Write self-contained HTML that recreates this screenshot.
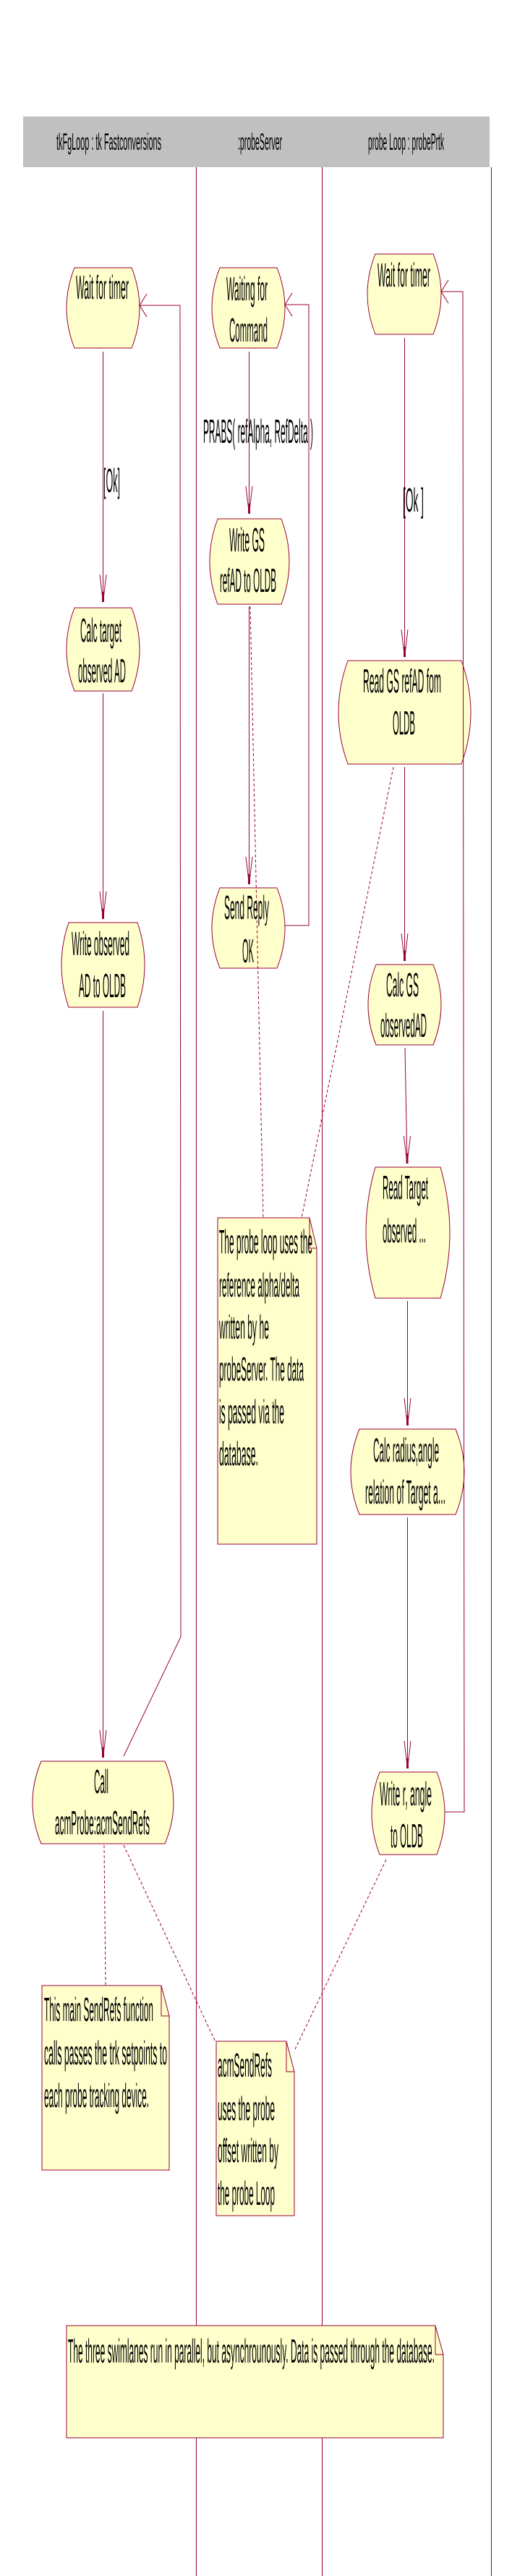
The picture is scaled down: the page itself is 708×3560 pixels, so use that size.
<!DOCTYPE html>
<html><head><meta charset="utf-8"><style>
html,body{margin:0;padding:0;background:#fff}
svg{display:block}
text{font-family:"Liberation Sans",sans-serif;fill:#000}
</style></head><body>
<svg width="708" height="3560" viewBox="0 0 708 3560" xmlns="http://www.w3.org/2000/svg">
<defs>
<marker id="a" markerWidth="12" markerHeight="40" refX="6" refY="38" orient="auto" markerUnits="userSpaceOnUse"></marker>
</defs>
<!-- header -->
<rect x="32" y="161" width="645" height="70" fill="#c0c0c0"/>
<text x="78" y="207" font-size="32" textLength="145" lengthAdjust="spacingAndGlyphs">tkFgLoop : tk Fastconversions</text>
<text x="329" y="207" font-size="32" textLength="61" lengthAdjust="spacingAndGlyphs">:probeServer</text>
<text x="509" y="207" font-size="32" textLength="105" lengthAdjust="spacingAndGlyphs">probe Loop : probePrtk</text>
<g stroke="#990033" stroke-width="1" fill="none">
<line x1="271.5" y1="231" x2="271.5" y2="3560"/>
<line x1="445.5" y1="231" x2="445.5" y2="3560"/>
<line x1="679.5" y1="231" x2="679.5" y2="3560"/>
</g>

<!-- nodes -->
<g stroke="#990033" stroke-width="1" fill="#ffffcc">
<path d="M103 370 L182 370 Q204 425.5 182 481 L103 481 Q81 425.5 103 370Z"/>
<path d="M304 370 L383 370 Q405 425.5 383 481 L304 481 Q282 425.5 304 370Z"/>
<path d="M519 351 L599 351 Q621 406.5 599 462 L519 462 Q497 406.5 519 351Z"/>
<path d="M301 717 L389 717 Q411 776 389 835 L301 835 Q279 776 301 717Z"/>
<path d="M103 840 L182 840 Q204 897.5 182 955 L103 955 Q81 897.5 103 840Z"/>
<path d="M481 913 L638 913 Q664 984.5 638 1056 L481 1056 Q455 984.5 481 913Z"/>
<path d="M304 1227 L383 1227 Q405 1282.5 383 1338 L304 1338 Q282 1282.5 304 1227Z"/>
<path d="M95 1275 L190 1275 Q210 1333.5 190 1392 L95 1392 Q75 1333.5 95 1275Z"/>
<path d="M520 1333 L599 1333 Q621 1388.5 599 1444 L520 1444 Q498 1388.5 520 1333Z"/>
<path d="M519 1613 L609 1613 Q635 1703.5 609 1794 L519 1794 Q493 1703.5 519 1613Z"/>
<path d="M497 1975 L630 1975 Q654 2034 630 2093 L497 2093 Q473 2034 497 1975Z"/>
<path d="M57 2434 L228 2434 Q252 2491 228 2548 L57 2548 Q33 2491 57 2434Z"/>
<path d="M525 2449 L604 2449 Q626 2506 604 2563 L525 2563 Q503 2506 525 2449Z"/>
<!-- notes -->
<path d="M301 1683 L428 1683 L438 1725 L438 2134 L301 2134Z"/>
<path d="M58 2744 L223 2744 L234 2786 L234 2999 L58 2999Z"/>
<path d="M299 2821 L396 2821 L407 2863 L407 3062 L299 3062Z"/>
<path d="M92 3214 L602 3214 L613 3254 L613 3369 L92 3369Z"/>
</g>
<g stroke="#990033" stroke-width="1" fill="none">
<path d="M428 1683 L428 1725 L438 1725"/>
<path d="M223 2744 L223 2786 L234 2786"/>
<path d="M396 2821 L396 2863 L407 2863"/>
<path d="M602 3214 L602 3254 L613 3254"/>
</g>

<!-- solid connectors -->
<g stroke="#990033" stroke-width="1" fill="none">
<line x1="142.5" y1="486" x2="142.5" y2="832"/>
<line x1="142.5" y1="958" x2="142.5" y2="1270"/>
<line x1="142.5" y1="1397" x2="142.5" y2="2429"/>
<polyline points="171,2427 250,2262 249,422 193,422"/>
<line x1="344.5" y1="486" x2="344.5" y2="710"/>
<line x1="344.5" y1="838" x2="344.5" y2="1222"/>
<polyline points="394,1279 427,1279 427,421 394,421"/>
<line x1="559.5" y1="467" x2="559.5" y2="908"/>
<line x1="559.5" y1="1060" x2="559.5" y2="1328"/>
<line x1="560" y1="1448" x2="563" y2="1608"/>
<line x1="563.5" y1="1798" x2="563.5" y2="1970"/>
<line x1="563.5" y1="2097" x2="563.5" y2="2444"/>
<polyline points="615,2504 642,2504 640,403 610,403"/>
<!-- arrowheads (down) -->
<path d="M138 794 L142.5 832 L147 794"/>
<path d="M138 1232 L142.5 1270 L147 1232"/>
<path d="M138 2391 L142.5 2429 L147 2391"/>
<path d="M340 672 L344.5 710 L349 672"/>
<path d="M340 1184 L344.5 1222 L349 1184"/>
<path d="M555 870 L559.5 908 L564 870"/>
<path d="M555 1290 L559.5 1328 L564 1290"/>
<path d="M558.5 1570 L563 1608 L567.5 1570"/>
<path d="M559 1932 L563.5 1970 L568 1932"/>
<path d="M559 2406 L563.5 2444 L568 2406"/>
<!-- arrowheads (left) -->
<path d="M203 406 L193 422 L203 438"/>
<path d="M404 405 L394 421 L404 437"/>
<path d="M620 387 L610 403 L620 419"/>
</g>
<g stroke="#990033" stroke-width="3" fill="none">
<line x1="142.5" y1="818" x2="142.5" y2="832"/>
<line x1="142.5" y1="1256" x2="142.5" y2="1270"/>
<line x1="142.5" y1="2415" x2="142.5" y2="2429"/>
<line x1="344.5" y1="696" x2="344.5" y2="710"/>
<line x1="344.5" y1="1208" x2="344.5" y2="1222"/>
<line x1="559.5" y1="894" x2="559.5" y2="908"/>
<line x1="559.5" y1="1314" x2="559.5" y2="1328"/>
<line x1="563" y1="1594" x2="563" y2="1608"/>
<line x1="563.5" y1="1956" x2="563.5" y2="1970"/>
<line x1="563.5" y1="2430" x2="563.5" y2="2444"/>
</g>
<!-- dashed -->
<g stroke="#990033" stroke-width="1" fill="none" stroke-dasharray="4,3">
<line x1="346" y1="838" x2="364" y2="1683"/>
<line x1="544" y1="1060" x2="417" y2="1683"/>
<line x1="144" y1="2550" x2="146" y2="2743"/>
<line x1="171" y1="2550" x2="298" y2="2822"/>
<line x1="534" y1="2570" x2="408" y2="2832"/>
</g>

<!-- labels -->
<g font-size="46">
<text x="281" y="612" textLength="152" lengthAdjust="spacingAndGlyphs">PRABS( refAlpha, RefDelta )</text>
<text x="143" y="680" textLength="23" lengthAdjust="spacingAndGlyphs">[Ok]</text>
<text x="557" y="707" textLength="29" lengthAdjust="spacingAndGlyphs">[Ok ]</text>

<text x="105" y="413" textLength="73" lengthAdjust="spacingAndGlyphs">Wait for timer</text>
<text x="313" y="415" textLength="57" lengthAdjust="spacingAndGlyphs">Waiting for</text>
<text x="317" y="472" textLength="53" lengthAdjust="spacingAndGlyphs">Command</text>
<text x="522" y="396" textLength="73" lengthAdjust="spacingAndGlyphs">Wait for timer</text>
<text x="317" y="762" textLength="49" lengthAdjust="spacingAndGlyphs">Write GS</text>
<text x="304" y="818" textLength="78" lengthAdjust="spacingAndGlyphs">refAD to OLDB</text>
<text x="111" y="887" textLength="57" lengthAdjust="spacingAndGlyphs">Calc target</text>
<text x="108" y="943" textLength="66" lengthAdjust="spacingAndGlyphs">observed AD</text>
<text x="502" y="957" textLength="108" lengthAdjust="spacingAndGlyphs">Read GS refAD fom</text>
<text x="543" y="1015" textLength="31" lengthAdjust="spacingAndGlyphs">OLDB</text>
<text x="310" y="1270" textLength="62" lengthAdjust="spacingAndGlyphs">Send Reply</text>
<text x="335" y="1330" textLength="16" lengthAdjust="spacingAndGlyphs">OK</text>
<text x="99" y="1320" textLength="80" lengthAdjust="spacingAndGlyphs">Write observed</text>
<text x="109" y="1378" textLength="65" lengthAdjust="spacingAndGlyphs">AD to OLDB</text>
<text x="534" y="1377" textLength="45" lengthAdjust="spacingAndGlyphs">Calc GS</text>
<text x="526" y="1433" textLength="64" lengthAdjust="spacingAndGlyphs">observedAD</text>
<text x="529" y="1657" textLength="63" lengthAdjust="spacingAndGlyphs">Read Target</text>
<text x="529" y="1717" textLength="60" lengthAdjust="spacingAndGlyphs">observed ...</text>
<text x="516" y="2020" textLength="91" lengthAdjust="spacingAndGlyphs">Calc radius,angle</text>
<text x="505" y="2078" textLength="111" lengthAdjust="spacingAndGlyphs">relation of Target a...</text>
<text x="130" y="2478" textLength="20" lengthAdjust="spacingAndGlyphs">Call</text>
<text x="76" y="2535" textLength="131" lengthAdjust="spacingAndGlyphs">acmProbe:acmSendRefs</text>
<text x="525" y="2495" textLength="72" lengthAdjust="spacingAndGlyphs">Write r, angle</text>
<text x="540" y="2553" textLength="45" lengthAdjust="spacingAndGlyphs">to OLDB</text>

<text x="303" y="1732" textLength="129" lengthAdjust="spacingAndGlyphs">The probe loop uses the</text>
<text x="303" y="1792" textLength="111" lengthAdjust="spacingAndGlyphs">reference alpha/delta</text>
<text x="303" y="1850" textLength="69" lengthAdjust="spacingAndGlyphs">written by he</text>
<text x="303" y="1908" textLength="117" lengthAdjust="spacingAndGlyphs">probeServer. The data</text>
<text x="303" y="1967" textLength="90" lengthAdjust="spacingAndGlyphs">is passed via the</text>
<text x="303" y="2025" textLength="54" lengthAdjust="spacingAndGlyphs">database.</text>

<text x="61" y="2793" textLength="151" lengthAdjust="spacingAndGlyphs">This main SendRefs function</text>
<text x="61" y="2853" textLength="170" lengthAdjust="spacingAndGlyphs">calls passes the trk setpoints to</text>
<text x="61" y="2912" textLength="145" lengthAdjust="spacingAndGlyphs">each probe tracking device.</text>

<text x="301" y="2870" textLength="75" lengthAdjust="spacingAndGlyphs">acmSendRefs</text>
<text x="301" y="2930" textLength="79" lengthAdjust="spacingAndGlyphs">uses the probe</text>
<text x="301" y="2988" textLength="84" lengthAdjust="spacingAndGlyphs">offset written by</text>
<text x="301" y="3047" textLength="79" lengthAdjust="spacingAndGlyphs">the probe Loop</text>

<text x="94" y="3265" textLength="507" lengthAdjust="spacingAndGlyphs">The three swimlanes run in parallel, but asynchrounously. Data is passed through the database.</text>
</g>
</svg>
</body></html>
